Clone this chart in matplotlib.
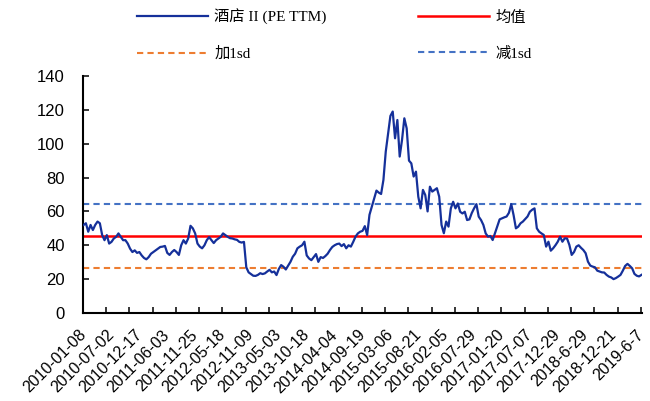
import matplotlib
matplotlib.use("Agg")
import matplotlib.pyplot as plt
from matplotlib.lines import Line2D
from matplotlib.ticker import FixedLocator
import numpy as np

# weekly PE (TTM) for the hotel index, one reading every second week
pe_ttm = [
    52, 53, 48, 52, 49, 52, 54, 53, 46, 43, 46, 41, 42, 44, 45, 47, 45, 43, 43, 41,
    38, 36, 37, 35.5, 36, 34, 32.5, 31.7, 33, 35, 36, 37, 38, 39, 39.2, 39.6, 35.5, 34.3, 36, 37.2,
    36, 34.3, 40, 43, 41, 44, 51.5, 50, 47, 41, 39.2, 38.2, 40, 43, 44.8, 43, 41.3, 43, 44, 45,
    47, 46, 45, 44.2, 44, 43.5, 43.2, 42, 41.6, 42, 27, 24, 23, 22, 21.9, 22.5, 23.5, 23, 23.4, 24.5,
    25.5, 24, 24.5, 22.4, 26, 28.3, 27.3, 25.7, 28, 30.2, 33.2, 35, 38.2, 39.2, 40, 42.1, 34, 32.2, 31.2, 33,
    34.8, 30.2, 33, 32.5, 33.6, 35, 37.2, 39, 40, 40.7, 41, 39.5, 40.7, 38.2, 40, 39.2, 42, 45.1, 47, 48,
    48.5, 51.3, 46, 58, 62.8, 67.7, 72.3, 71.1, 70.3, 78.6, 95.3, 106, 116.4, 119, 103.2, 114, 92.4, 102.2, 115, 109.1,
    90, 88.4, 80.6, 83.5, 68.7, 61.8, 72.7, 69.7, 60, 74.6, 71.7, 72.7, 73.7, 68.7, 52, 47.1, 54, 51, 61.8, 65.7,
    61.8, 64.7, 59.8, 58.8, 59.8, 54.9, 55.3, 59, 61.8, 64.3, 56.9, 54.9, 52, 47, 45.1, 45.5, 43.1, 47.1, 51, 55.3,
    55.9, 56.5, 57, 59.2, 64.3, 57.8, 50, 51, 53, 54, 55.5, 57, 59.8, 61, 61.8, 50, 48, 47, 46.1, 39.2,
    42.1, 36.8, 38.2, 40, 42.1, 45.1, 42.1, 44.1, 44, 40.2, 34.3, 36, 39.2, 40, 38.5, 37.2, 35.3, 30.3, 28, 27.4,
    27, 25, 24.5, 24, 23.9, 22.5, 21.5, 21, 20, 20.6, 21.5, 22.5, 25, 27.8, 29, 27.8, 26.4, 23.1, 22, 21.6,
    22.5,
]
week_step = 2
n_weeks = 481

pe_mean = 45.7
pe_sd = 18.9

date_labels = [
    "2010-01-08", "2010-07-02", "2010-12-17", "2011-06-03", "2011-11-25",
    "2012-05-18", "2012-11-09", "2013-05-03", "2013-10-18", "2014-04-04",
    "2014-09-19", "2015-03-06", "2015-08-21", "2016-02-05", "2016-07-29",
    "2017-01-20", "2017-07-07", "2017-12-29", "2018-6-29", "2018-12-21",
    "2019-6-7",
]
label_every = 24
tick_every = 20

series_name = "酒店 II (PE TTM)"
mean_name = "均值"
plus_name = "加1sd"
minus_name = "减1sd"

navy = "#15309A"
red = "#FF0000"
orange = "#ED7D31"
lightblue = "#4472C4"

fig = plt.figure(figsize=(6.5, 4.01), dpi=100)
ax = fig.add_axes([0.1277, 0.2195, 0.86, 0.591])

x = np.arange(len(pe_ttm)) * week_step
ax.plot(x, pe_ttm, color=navy, lw=1.6, zorder=3)
ax.axhline(pe_mean, color=red, lw=1.8, zorder=2)
ax.axhline(pe_mean - pe_sd, color=orange, lw=1.5, ls=(0, (3, 2)), zorder=2)
ax.axhline(pe_mean + pe_sd, color=lightblue, lw=1.5, ls=(0, (3, 2)), zorder=2)

ax.set_xlim(-0.5, n_weeks - 0.5)
ax.set_ylim(0, 140)
ax.set_yticks(np.arange(0, 141, 20))

# labels sit on the categories, the small marks between categories
ax.set_xticks(np.arange(0, n_weeks, label_every))
ax.set_xticklabels(date_labels, rotation=45, ha="right", va="center",
                   rotation_mode="anchor", fontsize=11.5, family="Liberation Sans")
ax.xaxis.set_minor_locator(FixedLocator(np.arange(tick_every - 0.5, n_weeks, tick_every)))
ax.tick_params(axis="x", which="major", length=0, pad=14)
ax.tick_params(axis="x", which="minor", direction="in", length=4.5, width=1.1)
ax.tick_params(axis="y", direction="in", length=4.5, width=1.1, pad=13, labelsize=12)
for lab in ax.get_yticklabels():
    lab.set_family("Liberation Sans")

for side in ("top", "right"):
    ax.spines[side].set_visible(False)
for side in ("left", "bottom"):
    ax.spines[side].set_linewidth(1.5)
    ax.spines[side].set_color("black")

handles = [
    Line2D([], [], color=navy, lw=1.6, label=series_name),
    Line2D([], [], color=orange, lw=1.5, ls=(0, (3, 2)), label=plus_name),
    Line2D([], [], color=red, lw=1.8, label=mean_name),
    Line2D([], [], color=lightblue, lw=1.5, ls=(0, (3, 2)), label=minus_name),
]
fig.legend(handles=handles, ncol=2, loc="upper left", bbox_to_anchor=(0.19, 1.012),
           frameon=False, handlelength=4.6, handletextpad=0.45, columnspacing=6.0,
           labelspacing=1.42, prop={"family": ["Liberation Serif", "Noto Sans CJK SC"], "size": 11})

fig.savefig("out.png", dpi=100)
